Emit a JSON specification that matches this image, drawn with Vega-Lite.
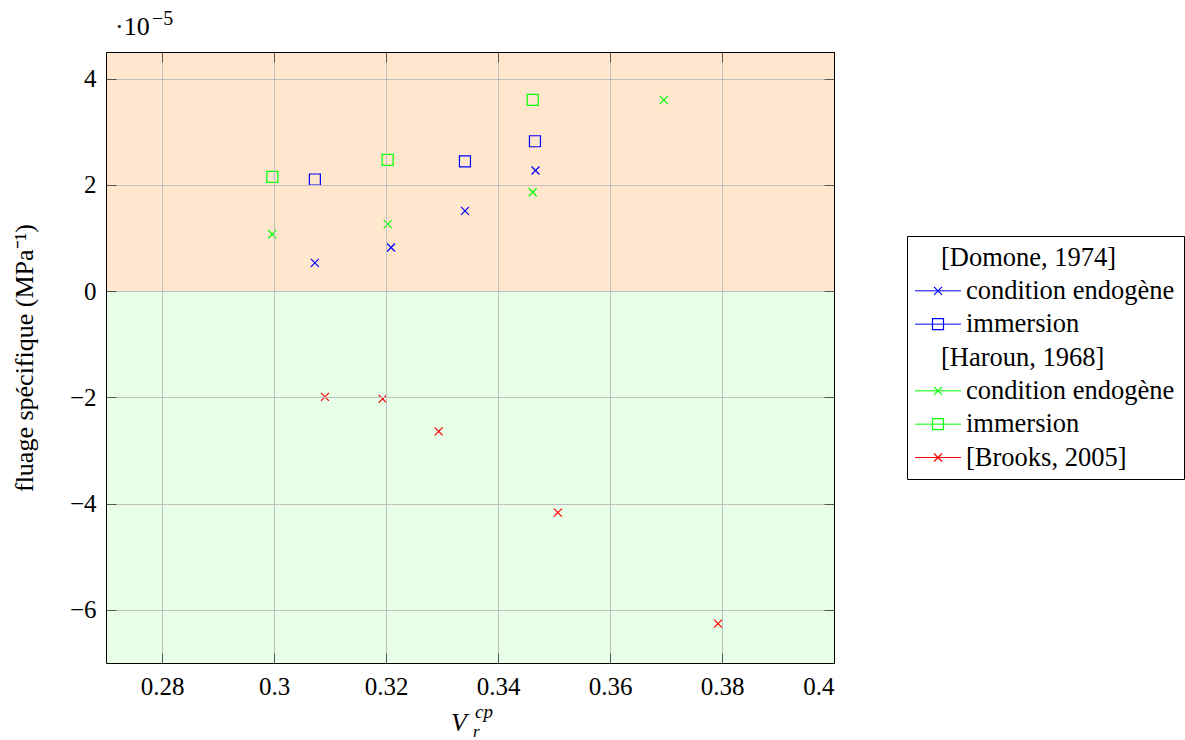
{
  "$schema": "https://vega.github.io/schema/vega-lite/v6.json",
  "padding": {"left": 11, "top": 9, "right": 0, "bottom": 0},
  "background": "white",
  "bounds": "flush",
  "center": true,
  "spacing": 73,
  "config": {
    "font": "Liberation Serif",
    "view": {"stroke": null},
    "axis": {
      "labelFont": "Liberation Serif", "labelFontSize": 25, "labelColor": "black",
      "titleFont": "Liberation Serif", "titleFontSize": 26, "titleFontWeight": "normal", "titleColor": "black",
      "gridColor": "#bfbfbf", "gridWidth": 1, "gridOpacity": 1,
      "domainColor": "black", "domainWidth": 1,
      "tickColor": "#555555", "tickWidth": 1, "zindex": 1
    }
  },
  "datasets": {
    "points": [
      {"vr": 0.3073, "fluage": 0.53, "source": "Domone", "condition": "endogène"},
      {"vr": 0.3209, "fluage": 0.82, "source": "Domone", "condition": "endogène"},
      {"vr": 0.3341, "fluage": 1.51, "source": "Domone", "condition": "endogène"},
      {"vr": 0.3467, "fluage": 2.27, "source": "Domone", "condition": "endogène"},
      {"vr": 0.3073, "fluage": 2.10, "source": "Domone", "condition": "immersion"},
      {"vr": 0.3341, "fluage": 2.44, "source": "Domone", "condition": "immersion"},
      {"vr": 0.3466, "fluage": 2.82, "source": "Domone", "condition": "immersion"},
      {"vr": 0.2997, "fluage": 1.07, "source": "Haroun", "condition": "endogène"},
      {"vr": 0.3203, "fluage": 1.26, "source": "Haroun", "condition": "endogène"},
      {"vr": 0.3462, "fluage": 1.86, "source": "Haroun", "condition": "endogène"},
      {"vr": 0.3696, "fluage": 3.60, "source": "Haroun", "condition": "endogène"},
      {"vr": 0.2997, "fluage": 2.15, "source": "Haroun", "condition": "immersion"},
      {"vr": 0.3203, "fluage": 2.47, "source": "Haroun", "condition": "immersion"},
      {"vr": 0.3462, "fluage": 3.60, "source": "Haroun", "condition": "immersion"},
      {"vr": 0.3091, "fluage": -1.99, "source": "Brooks", "condition": "endogène"},
      {"vr": 0.3194, "fluage": -2.03, "source": "Brooks", "condition": "endogène"},
      {"vr": 0.3294, "fluage": -2.64, "source": "Brooks", "condition": "endogène"},
      {"vr": 0.3507, "fluage": -4.17, "source": "Brooks", "condition": "endogène"},
      {"vr": 0.3793, "fluage": -6.26, "source": "Brooks", "condition": "endogène"}
    ],
    "zones": [
      {"zone": "positif", "lo": 0, "hi": 4.5},
      {"zone": "négatif", "lo": -7, "hi": 0}
    ],
    "legend": [
      {"row": 0, "kind": "header", "label": "[Domone, 1974]"},
      {"row": 1, "kind": "entry", "label": "condition endogène", "source": "Domone", "condition": "endogène"},
      {"row": 2, "kind": "entry", "label": "immersion", "source": "Domone", "condition": "immersion"},
      {"row": 3, "kind": "header", "label": "[Haroun, 1968]"},
      {"row": 4, "kind": "entry", "label": "condition endogène", "source": "Haroun", "condition": "endogène"},
      {"row": 5, "kind": "entry", "label": "immersion", "source": "Haroun", "condition": "immersion"},
      {"row": 6, "kind": "entry", "label": "[Brooks, 2005]", "source": "Brooks", "condition": "endogène"}
    ]
  },
  "hconcat": [
    {
      "width": 728,
      "height": 611,
      "layer": [
        {
          "data": {"name": "zones"},
          "mark": {"type": "rect"},
          "encoding": {
            "x": {"datum": 0.27, "type": "quantitative", "scale": {"domain": [0.27, 0.4], "nice": false, "zero": false},
                  "axis": {"orient": "top", "labels": false, "title": null, "grid": false, "domain": true, "ticks": true, "tickSize": -10, "zindex": 2, "values": [0.28, 0.3, 0.32, 0.34, 0.36, 0.38, 0.4]}},
            "x2": {"datum": 0.4},
            "y": {"field": "lo", "type": "quantitative", "scale": {"domain": [-7, 4.5], "nice": false, "zero": false},
                  "axis": {"orient": "left", "title": "fluage spécifique (MPa⁻¹)", "values": [-6, -4, -2, 0, 2, 4], "format": "d", "grid": true, "tickSize": -10, "labelPadding": 20, "titlePadding": 32, "zindex": 2}},
            "y2": {"field": "hi"},
            "fill": {"field": "zone", "type": "nominal", "scale": {"domain": ["positif", "négatif"], "range": ["#ffe6cc", "#e6ffe6"]}, "legend": null}
          }
        },
        {
          "data": {"name": "points"},
          "mark": {"type": "point", "filled": false, "strokeWidth": 1.2, "opacity": 1},
          "encoding": {
            "x": {"field": "vr", "type": "quantitative", "scale": {"domain": [0.27, 0.4], "nice": false, "zero": false},
                  "axis": {"orient": "bottom", "title": null, "values": [0.28, 0.3, 0.32, 0.34, 0.36, 0.38, 0.4], "format": ".2~f", "grid": true, "tickSize": -10, "labelPadding": 21, "zindex": 2}},
            "y": {"field": "fluage", "type": "quantitative", "scale": {"domain": [-7, 4.5], "nice": false, "zero": false},
                  "axis": {"orient": "right", "labels": false, "title": null, "grid": false, "tickSize": -10, "zindex": 2, "values": [-6, -4, -2, 0, 2, 4]}},
            "stroke": {"field": "source", "type": "nominal", "scale": {"domain": ["Domone", "Haroun", "Brooks"], "range": ["#0000ff", "#00ff00", "#ff0000"]}, "legend": null},
            "shape": {"field": "condition", "type": "nominal", "scale": {"domain": ["endogène", "immersion"], "range": ["M-1,-1L1,1M-1,1L1,-1", "square"]}, "legend": null},
            "size": {"field": "condition", "type": "nominal", "scale": {"domain": ["endogène", "immersion"], "range": [64, 121]}, "legend": null}
          }
        },
        {
          "data": {"values": [{}]},
          "mark": {"type": "text", "text": "·10", "align": "left", "baseline": "alphabetic", "fontSize": 26, "font": "Liberation Serif", "color": "black", "dx": 9, "dy": -17},
          "encoding": {"x": {"datum": 0.27, "type": "quantitative", "axis": null}, "y": {"datum": 4.5, "type": "quantitative", "axis": null}}
        },
        {
          "data": {"values": [{}]},
          "mark": {"type": "text", "text": "−5", "align": "left", "baseline": "alphabetic", "fontSize": 20, "font": "Liberation Serif", "color": "black", "dx": 46, "dy": -27},
          "encoding": {"x": {"datum": 0.27, "type": "quantitative", "axis": null}, "y": {"datum": 4.5, "type": "quantitative", "axis": null}}
        },
        {
          "data": {"values": [{}]},
          "mark": {"type": "text", "text": "V", "align": "left", "baseline": "alphabetic", "fontSize": 26, "fontStyle": "italic", "font": "Liberation Serif", "color": "black", "dx": -19, "dy": 68},
          "encoding": {"x": {"datum": 0.335, "type": "quantitative", "axis": null}, "y": {"datum": -7, "type": "quantitative", "axis": null}}
        },
        {
          "data": {"values": [{}]},
          "mark": {"type": "text", "text": "r", "align": "left", "baseline": "alphabetic", "fontSize": 17, "fontStyle": "italic", "font": "Liberation Serif", "color": "black", "dx": 3, "dy": 74},
          "encoding": {"x": {"datum": 0.335, "type": "quantitative", "axis": null}, "y": {"datum": -7, "type": "quantitative", "axis": null}}
        },
        {
          "data": {"values": [{}]},
          "mark": {"type": "text", "text": "cp", "align": "left", "baseline": "alphabetic", "fontSize": 19, "fontStyle": "italic", "font": "Liberation Serif", "color": "black", "dx": 5, "dy": 55},
          "encoding": {"x": {"datum": 0.335, "type": "quantitative", "axis": null}, "y": {"datum": -7, "type": "quantitative", "axis": null}}
        }
      ],
      "resolve": {"axis": {"x": "independent", "y": "independent"}}
    },
    {
      "width": 277,
      "height": 243,
      "view": {"stroke": "black", "strokeWidth": 1},
      "data": {"name": "legend"},
      "encoding": {
        "y": {"field": "row", "type": "ordinal", "scale": {"type": "point", "padding": 0.645}, "axis": null}
      },
      "layer": [
        {
          "transform": [{"filter": "datum.kind === 'entry'"}],
          "mark": {"type": "rule", "strokeWidth": 1},
          "encoding": {
            "x": {"value": 8}, "x2": {"value": 54},
            "stroke": {"field": "source", "type": "nominal", "scale": {"domain": ["Domone", "Haroun", "Brooks"], "range": ["#0000ff", "#00ff00", "#ff0000"]}, "legend": null}
          }
        },
        {
          "transform": [{"filter": "datum.kind === 'entry'"}],
          "mark": {"type": "point", "filled": false, "strokeWidth": 1.2, "opacity": 1},
          "encoding": {
            "x": {"value": 31},
            "stroke": {"field": "source", "type": "nominal", "scale": {"domain": ["Domone", "Haroun", "Brooks"], "range": ["#0000ff", "#00ff00", "#ff0000"]}, "legend": null},
            "shape": {"field": "condition", "type": "nominal", "scale": {"domain": ["endogène", "immersion"], "range": ["M-1,-1L1,1M-1,1L1,-1", "square"]}, "legend": null},
            "size": {"field": "condition", "type": "nominal", "scale": {"domain": ["endogène", "immersion"], "range": [49, 110]}, "legend": null}
          }
        },
        {
          "transform": [{"filter": "datum.kind === 'header'"}],
          "mark": {"type": "text", "align": "left", "baseline": "middle", "fontSize": 26.5, "font": "Liberation Serif", "color": "black"},
          "encoding": {"x": {"value": 34}, "text": {"field": "label"}}
        },
        {
          "transform": [{"filter": "datum.kind === 'entry'"}],
          "mark": {"type": "text", "align": "left", "baseline": "middle", "fontSize": 26.5, "font": "Liberation Serif", "color": "black"},
          "encoding": {"x": {"value": 59}, "text": {"field": "label"}}
        }
      ]
    }
  ]
}
